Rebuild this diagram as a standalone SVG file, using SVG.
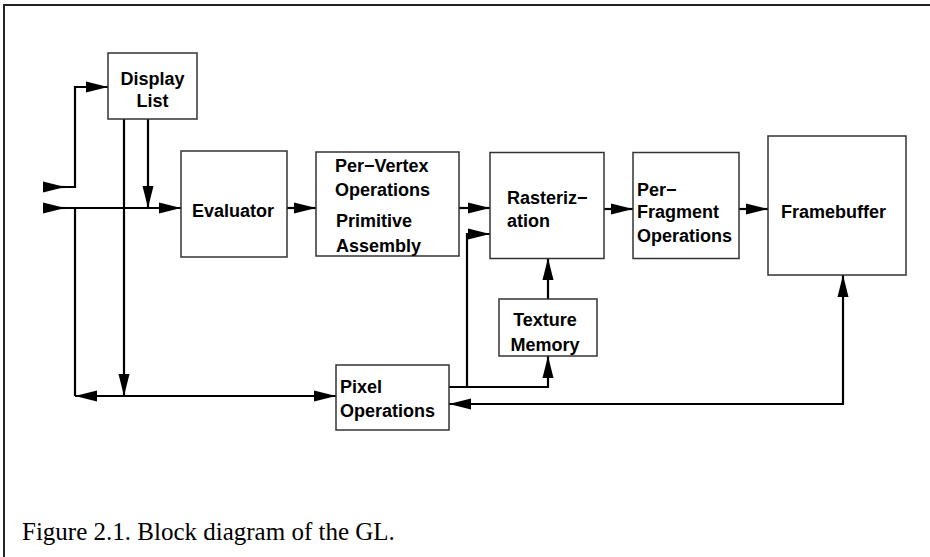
<svg xmlns="http://www.w3.org/2000/svg" width="930" height="557" viewBox="0 0 930 557">
<style>
.box{fill:#fff;stroke:#333;stroke-width:1.5}
.lbl{font-family:"Liberation Sans",Arial,sans-serif;font-weight:bold;font-size:18px;fill:#000}
.mid{text-anchor:middle}
.wire{fill:none;stroke:#000;stroke-width:2.2}
.frame{fill:none;stroke:#222;stroke-width:2}
.cap{font-family:"Liberation Serif","Times New Roman",serif;font-size:25px;fill:#000}
</style>
<defs>
<marker id="ah" markerUnits="userSpaceOnUse" markerWidth="24" markerHeight="12" refX="22" refY="6" orient="auto-start-reverse">
<path d="M0,0.5 L22,6 L0,11.5 z" fill="#000"/>
</marker>
</defs>
<rect width="930" height="557" fill="#fff"/>
<path class="frame" d="M4,557 V5 H930"/>
<g id="connectors">
<path class="wire" d="M43,187 H65" marker-end="url(#ah)"/>
<path class="wire" d="M43,187 H75 V87 H108" marker-end="url(#ah)"/>
<path class="wire" d="M43,208 H65" marker-end="url(#ah)"/>
<path class="wire" d="M43,208 H181" marker-end="url(#ah)"/>
<path class="wire" d="M148,119 V208" marker-end="url(#ah)"/>
<path class="wire" d="M124,119 V396" marker-end="url(#ah)"/>
<path class="wire" d="M75,208 V396"/>
<path class="wire" d="M75,396 H336" marker-start="url(#ah)" marker-end="url(#ah)"/>
<path class="wire" d="M287,208 H316" marker-end="url(#ah)"/>
<path class="wire" d="M459,208 H490" marker-end="url(#ah)"/>
<path class="wire" d="M449,387 H548 V356" marker-end="url(#ah)"/>
<path class="wire" d="M467,387 V234 H490" marker-end="url(#ah)"/>
<path class="wire" d="M548,299 V258" marker-end="url(#ah)"/>
<path class="wire" d="M604,209 H633" marker-end="url(#ah)"/>
<path class="wire" d="M739,209 H768" marker-end="url(#ah)"/>
<path class="wire" d="M449,404 H843 V275" marker-start="url(#ah)" marker-end="url(#ah)"/>
</g>
<g id="display-list">
<rect class="box" x="108" y="53" width="89" height="66"/>
<text class="lbl mid" x="152.5" y="85">Display</text>
<text class="lbl mid" x="152.5" y="107">List</text>
</g>
<g id="evaluator">
<rect class="box" x="181" y="151" width="106" height="106"/>
<text class="lbl" x="192" y="217">Evaluator</text>
</g>
<g id="per-vertex">
<rect class="box" x="316" y="152" width="143" height="104"/>
<text class="lbl" x="335" y="172">Per−Vertex</text>
<text class="lbl" x="335" y="196">Operations</text>
<text class="lbl" x="336" y="227">Primitive</text>
<text class="lbl" x="336" y="252">Assembly</text>
</g>
<g id="rasterization">
<rect class="box" x="490" y="152.5" width="114" height="106"/>
<text class="lbl" x="507" y="204">Rasteriz−</text>
<text class="lbl" x="507" y="227">ation</text>
</g>
<g id="per-fragment">
<rect class="box" x="633" y="152.5" width="106" height="106"/>
<text class="lbl" x="637" y="196">Per−</text>
<text class="lbl" x="637" y="218">Fragment</text>
<text class="lbl" x="637" y="241.5">Operations</text>
</g>
<g id="framebuffer">
<rect class="box" x="768" y="136" width="138" height="139"/>
<text class="lbl" x="781" y="218">Framebuffer</text>
</g>
<g id="texture-memory">
<rect class="box" x="499" y="299" width="98" height="57"/>
<text class="lbl mid" x="545" y="326">Texture</text>
<text class="lbl mid" x="545" y="350.5">Memory</text>
</g>
<g id="pixel-operations">
<rect class="box" x="336" y="365" width="113" height="65"/>
<text class="lbl" x="340" y="393">Pixel</text>
<text class="lbl" x="340" y="417">Operations</text>
</g>
<text class="cap" x="22" y="540">Figure 2.1. Block diagram of the GL.</text>
</svg>
